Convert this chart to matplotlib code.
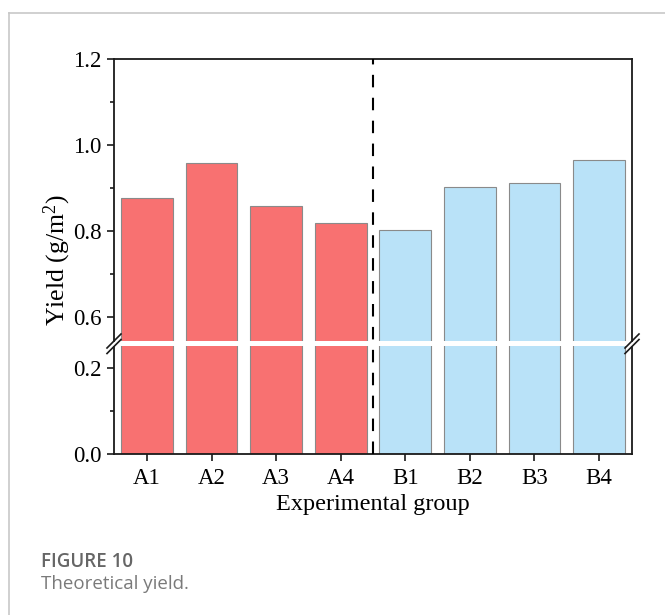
import matplotlib
matplotlib.use("Agg")
import matplotlib.pyplot as plt
from matplotlib.lines import Line2D
from matplotlib.ticker import MultipleLocator
from matplotlib.transforms import blended_transform_factory

# ---- data ----
groups_a = ["A1", "A2", "A3", "A4"]
groups_b = ["B1", "B2", "B3", "B4"]
yield_a = [0.876, 0.958, 0.859, 0.818]
yield_b = [0.802, 0.903, 0.912, 0.966]
color_a = "#F87171"
color_b = "#B9E2F8"

labels = groups_a + groups_b
values = yield_a + yield_b
colors = [color_a] * len(groups_a) + [color_b] * len(groups_b)
xpos = list(range(len(labels)))

plt.rcParams["font.family"] = ["Liberation Serif", "DejaVu Serif"]
plt.rcParams["mathtext.fontset"] = "custom"
plt.rcParams["mathtext.rm"] = "Liberation Serif"
plt.rcParams["mathtext.it"] = "Liberation Serif:italic"

W, H = 665, 615
fig = plt.figure(figsize=(W / 100, H / 100), dpi=100)

def fx(px):
    return px / W

def fy(py):
    return 1 - py / H

left, right = 114, 632
up_top, up_bot = 59, 341
lo_top, lo_bot = 346.5, 454

ax_up = fig.add_axes([fx(left), fy(up_bot), fx(right) - fx(left), fy(up_top) - fy(up_bot)])
ax_lo = fig.add_axes([fx(left), fy(lo_bot), fx(right) - fx(left), fy(lo_top) - fy(lo_bot)])

spine_c = "#1a1a1a"
for ax in (ax_up, ax_lo):
    ax.bar(xpos, values, width=0.8, color=colors, edgecolor="#8a8a8a", linewidth=0.8, zorder=2)
    ax.set_xlim(-0.51, 7.51)
    for s in ax.spines.values():
        s.set_linewidth(1.3)
        s.set_color(spine_c)
    ax.tick_params(axis="y", which="major", direction="out", length=5, width=1.2,
                   labelsize=16.5, pad=4, color=spine_c)
    ax.tick_params(axis="y", which="minor", direction="out", length=3, width=1.2, color=spine_c)
    ax.yaxis.set_major_locator(MultipleLocator(0.2))
    ax.yaxis.set_minor_locator(MultipleLocator(0.1))
    ax.yaxis.set_major_formatter(matplotlib.ticker.FormatStrFormatter("%.1f"))

ax_up.set_ylim(0.545, 1.2)
ax_lo.set_ylim(0.0, 0.25)

ax_up.spines["bottom"].set_visible(False)
ax_lo.spines["top"].set_visible(False)
ax_up.tick_params(axis="x", which="both", bottom=False, labelbottom=False)
ax_lo.set_xticks(xpos)
ax_lo.set_xticklabels(labels)
ax_lo.tick_params(axis="x", which="major", direction="out", length=5, width=1.2,
                  labelsize=16.5, pad=5, color=spine_c)

# separator between groups
sep_x = len(groups_a) - 0.5
trans = blended_transform_factory(ax_up.transData, fig.transFigure)
fig.add_artist(Line2D([sep_x, sep_x], [fy(lo_bot), fy(up_top)], transform=trans,
                      color="black", linewidth=1.5, linestyle=(0, (6, 5)), zorder=5))

# break marks
for xp in (left, right):
    for yc in (up_bot, lo_top):
        fig.add_artist(Line2D([fx(xp - 7), fx(xp + 7)], [fy(yc + 7), fy(yc - 7)],
                              color=spine_c, linewidth=1.2))

# axis labels
fig.text(fx((left + right) / 2), fy(510), "Experimental group", ha="center",
         va="baseline", fontsize=17.5)
fig.text(fx(57), fy(260), r"Yield (g/m$^{2}$)", rotation=90, ha="center",
         va="center", fontsize=18.5)

# frame lines
fig.add_artist(Line2D([fx(9), 1], [fy(13), fy(13)], color="#c8c8c8", linewidth=1.2))
fig.add_artist(Line2D([fx(9), fx(9)], [fy(13), 0], color="#c8c8c8", linewidth=1.2))

# caption
fig.text(fx(41), fy(567), "FIGURE 10", family=["Open Sans", "DejaVu Sans"],
         weight="semibold", color="#666666", fontsize=13.5, va="baseline")
fig.text(fx(41), fy(589), "Theoretical yield.", family=["Open Sans", "DejaVu Sans"],
         color="#7a7a7a", fontsize=13.5, va="baseline")

fig.savefig("out.png", dpi=100)
